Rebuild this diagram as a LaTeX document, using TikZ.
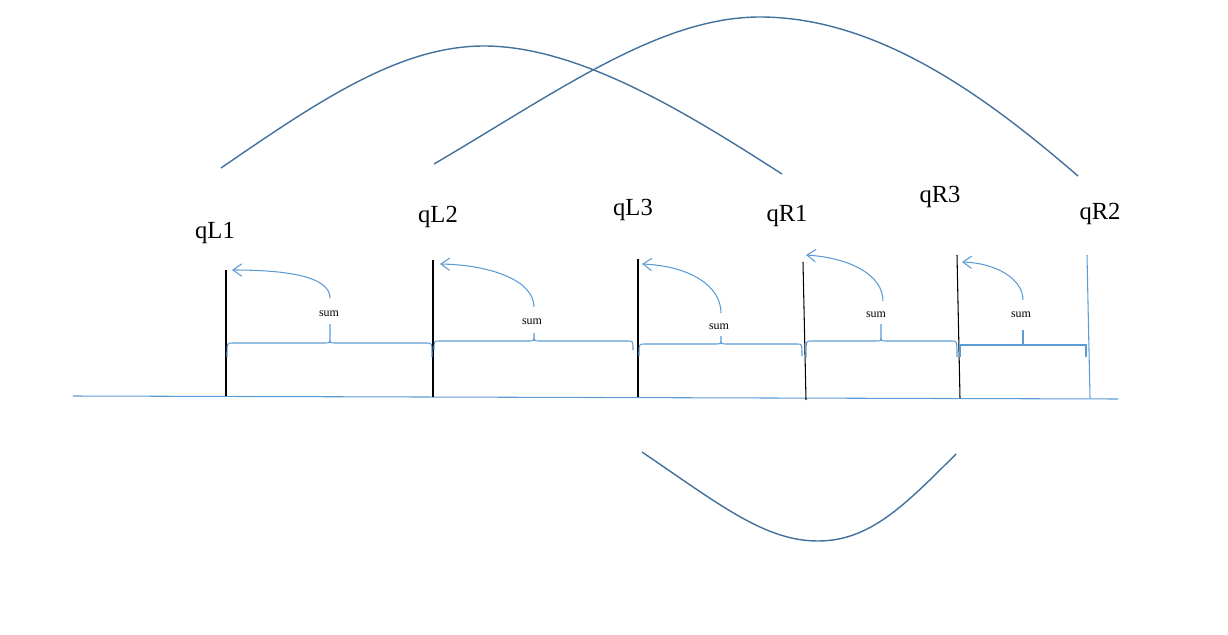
\documentclass[tikz,border=0pt]{standalone}
\usepackage{fontspec}
\setmainfont{Liberation Serif}
\usetikzlibrary{arrows.meta}
\definecolor{axisblue}{HTML}{5B9BD5}
\definecolor{waveblue}{HTML}{41719C}
% curly brace: left x, right x, tip x, flat y, tip y, end y
\newcommand{\sumbracepath}[6]{%
  \draw[sumbrace] (#1,#6) .. controls (#1,#4) .. (#1+5,#4) -- (#3-5,#4)
    .. controls (#3,#4) .. (#3,#4-6) -- (#3,#5)
    (#3,#4-6) .. controls (#3,#4) .. (#3+5,#4) -- (#2-5,#4)
    .. controls (#2,#4) .. (#2,#6);}
\begin{document}
\begin{tikzpicture}[x=0.02cm,y=-0.02cm,
  bar/.style={draw=black, line width=0.6pt},
  lastbar/.style={draw=axisblue, line width=0.6pt},
  axisline/.style={draw=axisblue, line width=0.6pt},
  wave/.style={draw=waveblue, line width=0.8pt},
  qlabel/.style={inner sep=1pt, font=\fontsize{14}{16}\selectfont},
  sumlabel/.style={inner sep=1pt, font=\fontsize{6.8}{8}\selectfont},
  sumbrace/.style={draw=axisblue, line width=0.6pt},
  sumarrow/.style={draw=axisblue, line width=0.6pt, -{Straight Barb[length=5pt, width=7pt]}}]
\useasboundingbox (0,0) rectangle (1228,635);

% baseline
\coordinate (b0) at (73,396);
\coordinate (b1) at (1118,399);
\draw[axisline] (b0) -- (b1);

% cut lines
\coordinate (l1t) at (226,270); \coordinate (l1b) at (226,396);
\coordinate (l2t) at (433,260); \coordinate (l2b) at (433,397);
\coordinate (l3t) at (638,259); \coordinate (l3b) at (638,397);
\coordinate (l4t) at (803,262); \coordinate (l4b) at (806,400);
\coordinate (l5t) at (957,255); \coordinate (l5b) at (960,398);
\coordinate (l6t) at (1087,255); \coordinate (l6b) at (1090,398);
\draw[bar] (l1t) -- (l1b);
\draw[bar] (l2t) -- (l2b);
\draw[bar] (l3t) -- (l3b);
\draw[bar] (l4t) -- (l4b);
\draw[bar] (l5t) -- (l5b);
\draw[lastbar] (l6t) -- (l6b);

% labels
\node[qlabel] (qL1) at (215,233) {qL1};
\node[qlabel] (qL2) at (438,217) {qL2};
\node[qlabel] (qL3) at (633,210) {qL3};
\node[qlabel] (qR1) at (787,216) {qR1};
\node[qlabel] (qR3) at (940,197) {qR3};
\node[qlabel] (qR2) at (1100,214) {qR2};

% braces
\sumbracepath{227}{432}{330}{343}{324}{357}
\sumbracepath{434}{633}{534}{341}{333}{350}
\sumbracepath{639}{802}{721}{344}{336}{356}
\sumbracepath{806}{957}{881}{341}{324}{357}
\coordinate (k5l) at (960,357); \coordinate (k5r) at (1086,357);
\coordinate (k5m) at (1023,345); \coordinate (k5t) at (1023,330);
\draw[axisline] (k5l) -- (960,345) -- (1086,345) -- (k5r);
\draw[axisline] (k5m) -- (k5t);

% sums
\node[sumlabel] (s1) at (329,314) {sum};
\node[sumlabel] (s2) at (532,322) {sum};
\node[sumlabel] (s3) at (719,327) {sum};
\node[sumlabel] (s4) at (876,315) {sum};
\node[sumlabel] (s5) at (1021,315) {sum};

% arrows
\coordinate (a1) at (330,298); \coordinate (h1) at (232,270);
\coordinate (a2) at (534,307); \coordinate (h2) at (440,264);
\coordinate (a3) at (721,313); \coordinate (h3) at (642,264);
\coordinate (a4) at (883,301); \coordinate (h4) at (806,255);
\coordinate (a5) at (1023,300); \coordinate (h5) at (962,262);
\draw[sumarrow] (a1) .. controls (330,276) and (285,270) .. (h1);
\draw[sumarrow] (a2) .. controls (534,281) and (492,265) .. (h2);
\draw[sumarrow] (a3) .. controls (721,286) and (690,266) .. (h3);
\draw[sumarrow] (a4) .. controls (883,276) and (852,258) .. (h4);
\draw[sumarrow] (a5) .. controls (1023,279) and (996,263) .. (h5);

% waves
\draw[wave] (221,168) .. controls (320,100) and (400,46) .. (484,46)
  .. controls (580,46) and (690,115) .. (782,174);
\draw[wave] (434,164) .. controls (560,90) and (660,17) .. (760,17)
  .. controls (880,17) and (990,100) .. (1078,176);
\draw[wave] (642,452) .. controls (720,505) and (765,541) .. (818,541)
  .. controls (870,541) and (905,505) .. (956,454);
\end{tikzpicture}
\end{document}
